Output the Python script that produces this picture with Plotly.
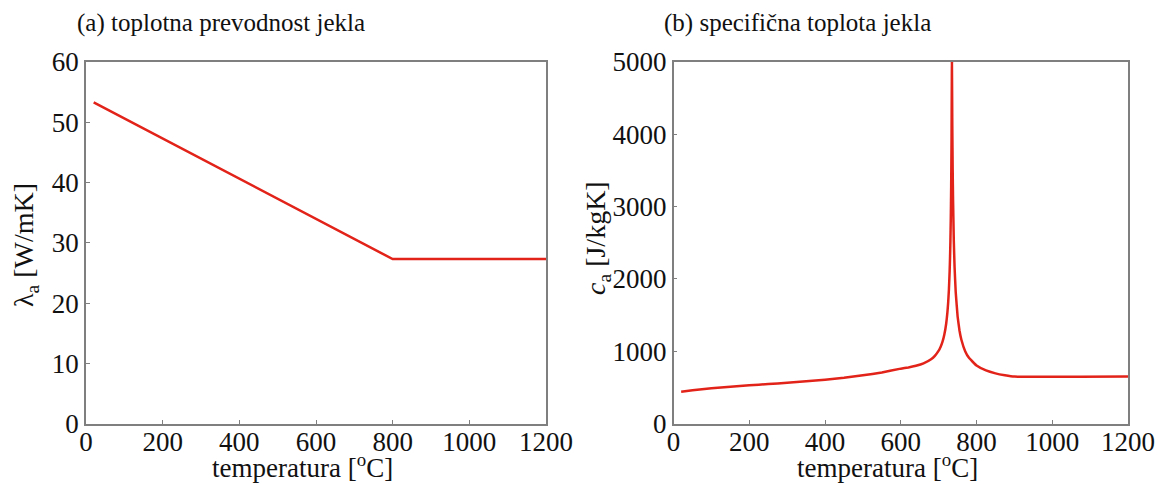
import plotly.graph_objects as go

# (a) thermal conductivity of steel
temp_a = [20, 800, 1200]
lambda_a = [53.3, 27.3, 27.3]

# (b) specific heat of steel
temp_b = [20, 50, 100, 150, 200, 250, 300, 350, 400, 450, 500, 550, 600,
          620, 640, 660, 680, 690, 700, 705, 710, 715, 720, 723, 725, 727,
          729, 730, 731, 732, 733, 734, 735, 736, 737, 738, 740, 742, 745,
          750, 755, 760, 770, 780, 800, 825, 850, 875, 900, 1200]
c_a = [440, 460, 488, 510, 530, 547, 565, 584, 606, 633, 667, 708, 760,
       776, 799, 833, 890, 937, 1008, 1060, 1130, 1231, 1388, 1533, 1666, 1848,
       2111, 2291, 2523, 2833, 3266, 3917, 5000, 4109, 3515, 3091, 2525, 2165, 1818,
       1483, 1288, 1160, 1002, 909, 803, 735, 695, 669, 650, 650]

x_ticks = [0, 200, 400, 600, 800, 1000, 1200]

FONT = "Times New Roman, Liberation Serif, serif"
RED = "#e2231a"
AX = "#7f7f7f"

fig = go.Figure()
fig.add_trace(go.Scatter(x=temp_a, y=lambda_a, mode="lines",
                         line=dict(color=RED, width=2.5), xaxis="x", yaxis="y",
                         showlegend=False))
fig.add_trace(go.Scatter(x=temp_b, y=c_a, mode="lines",
                         line=dict(color=RED, width=2.5, shape="spline", smoothing=0.3),
                         xaxis="x2", yaxis="y2", showlegend=False))

ydom = [(484 - 423.6) / 484, (484 - 62) / 484]
common = dict(showline=True, linecolor=AX, linewidth=1.5, mirror=True,
              ticks="inside", ticklen=4, tickcolor=AX, tickwidth=1.2,
              showgrid=False, zeroline=False, automargin=False,
              tickfont=dict(family=FONT, size=27, color="#111"))

fig.update_layout(
    width=1165, height=484,
    margin=dict(l=0, r=0, t=0, b=0, autoexpand=False),
    paper_bgcolor="white", plot_bgcolor="white",
    xaxis=dict(domain=[86 / 1165, 546 / 1165], range=[0, 1200],
               tickvals=x_ticks, anchor="y", ticklabelstandoff=-7, **common),
    yaxis=dict(domain=ydom, range=[0, 60], tickvals=[0, 10, 20, 30, 40, 50, 60],
               anchor="x", **common),
    xaxis2=dict(domain=[673.6 / 1165, 1128 / 1165], range=[0, 1200],
                tickvals=x_ticks, anchor="y2", ticklabelstandoff=-7, **common),
    yaxis2=dict(domain=ydom, range=[0, 5000],
                tickvals=[0, 1000, 2000, 3000, 4000, 5000], anchor="x2", **common),
)

ann = [
    dict(text="(a) toplotna prevodnost jekla", x=75, y=23, xanchor="left", size=25),
    dict(text="(b) specifična toplota jekla", x=662, y=23, xanchor="left", size=25),
    dict(text="temperatura [<sup>o</sup>C]", x=302, y=466, xanchor="center", size=27),
    dict(text="temperatura [<sup>o</sup>C]", x=887, y=466, xanchor="center", size=27),
    dict(text="λ<sub>a</sub> [W/mK]", x=25, y=245, xanchor="center", size=28, textangle=-90),
    dict(text="<i>c</i><sub>a</sub> [J/kgK]", x=597, y=238, xanchor="center", size=28, textangle=-90),
]
for a in ann:
    fig.add_annotation(text=a["text"], x=a["x"] / 1165, y=1 - a["y"] / 484,
                       xref="paper", yref="paper", xanchor=a["xanchor"],
                       yanchor="middle", showarrow=False,
                       font=dict(family=FONT, size=a["size"], color="#111"),
                       textangle=a.get("textangle", 0))

fig.write_html("out.html")
